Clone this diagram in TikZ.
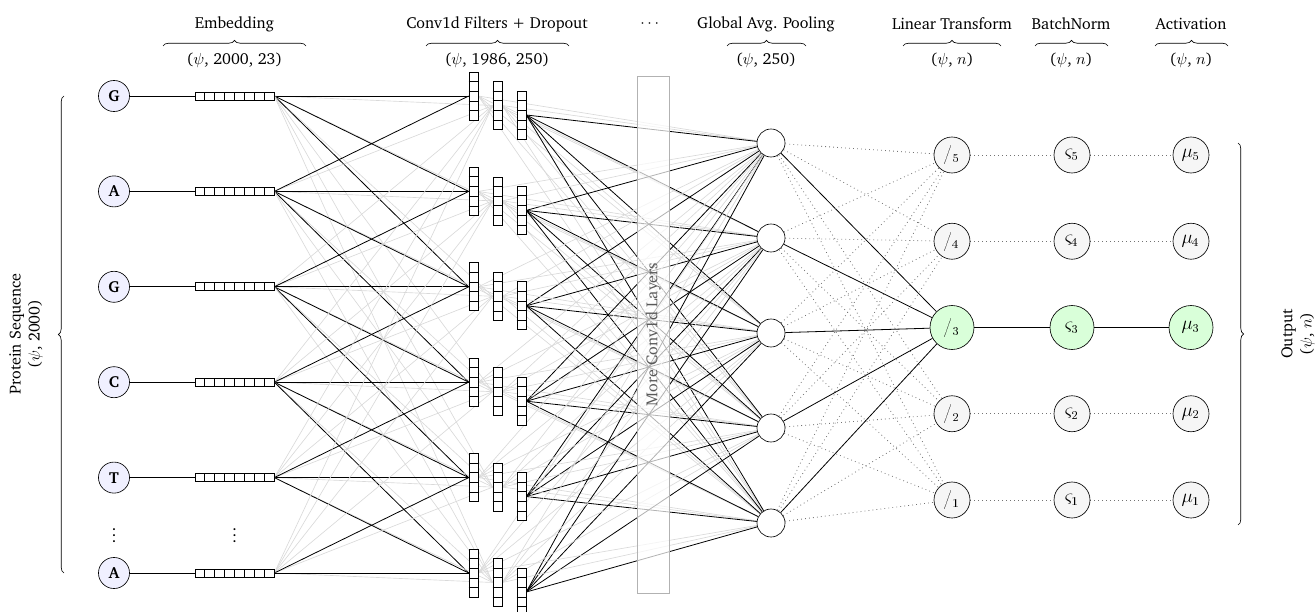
\documentclass[tikz,border=0pt]{standalone}
\usepackage[T1]{fontenc}
\usepackage{charter}
\usepackage{amsmath}
\usetikzlibrary{calc,decorations.pathreplacing,backgrounds}

\tikzset{
  inp/.style={circle, draw, fill=blue!6, minimum size=19.4pt, inner sep=0pt, font=\bfseries},
  embbox/.style={draw, fill=white, minimum width=49.4pt, minimum height=5pt, inner sep=0pt},
  convbox/.style={draw, fill=white, minimum width=5.6pt, minimum height=30pt, inner sep=0pt},
  pool/.style={circle, draw, fill=white, minimum size=17.5pt, inner sep=0pt},
  unit/.style={circle, draw, fill=gray!7, minimum size=22.5pt, inner sep=0pt, font=\large},
  hot/.style={unit, fill=green!15, minimum size=27.5pt},
  weak/.style={gray!30, line width=0.4pt},
  strong/.style={black, line width=0.5pt},
  faint/.style={black!55, dotted, line width=0.5pt},
  brc/.style={decorate, decoration={brace, amplitude=3.5pt}},
}

\begin{document}
\begin{tikzpicture}[x=0.625pt, y=-0.625pt]
  \useasboundingbox (0,0) rectangle (1316,612);

  % Titles and shapes
  \node at (234.5,24) {Embedding};
  \draw[brc] (163,46) -- (306,46);
  \node at (234.5,60) {($\psi$, 2000, 23)};
  \node at (497,24) {Conv1d Filters + Dropout};
  \draw[brc] (426,46) -- (569,46);
  \node at (497,60) {($\psi$, 1986, 250)};
  \node at (651,24) {$\cdots$};
  \node at (766,24) {Global Avg. Pooling};
  \draw[brc] (727,46) -- (806,46);
  \node at (766,60) {($\psi$, 250)};
  \node at (952,24) {Linear Transform};
  \draw[brc] (903,46) -- (1001,46);
  \node at (952,60) {($\psi$, $n$)};
  \node at (1071,24) {BatchNorm};
  \draw[brc] (1035,46) -- (1108,46);
  \node at (1071,60) {($\psi$, $n$)};
  \node at (1191,24) {Activation};
  \draw[brc] (1155,46) -- (1228,46);
  \node at (1191,60) {($\psi$, $n$)};

  % Input sequence and embeddings
  \foreach \l [count=\i from 0] in {G,A,G,C,T,A} {
    \node[inp] (in\i) at (114,{96+95.4*\i}) {\l};
    \node[embbox] (emb\i) at (234.5,{96+95.4*\i}) {};
    \foreach \k in {1,...,7}
      \draw ($(emb\i.south west)!\k/8!(emb\i.south east)$) -- ($(emb\i.north west)!\k/8!(emb\i.north east)$);
    \draw[strong] (in\i) -- (emb\i);
  }
  \node (vd1) at (114,531) {$\vdots$};
  \node (vd2) at (234.5,531) {$\vdots$};

  % Conv1d filters
  \foreach \i in {0,...,5} {
    \node[convbox] (ca\i) at (473.5,{96+95.4*\i}) {};
    \node[convbox] (cb\i) at (497.5,{105.5+95.4*\i}) {};
    \node[convbox] (cc\i) at (521.5,{115+95.4*\i}) {};
    \foreach \col in {ca,cb,cc}
      \foreach \k in {1,...,4}
        \draw ($(\col\i.north west)!\k/5!(\col\i.south west)$) -- ($(\col\i.north east)!\k/5!(\col\i.south east)$);
  }

  % Pooling
  \foreach \j in {0,...,4}
    \node[pool] (p\j) at (771,{143+95*\j}) {};

  % Linear, BatchNorm, Activation
  \foreach \m in {5,4,2,1} {
    \node[unit] (l\m) at (952,{155+86.25*(5-\m)}) {\sffamily /\textsubscript{\m}};
    \node[unit] (b\m) at (1072,{155+86.25*(5-\m)}) {$\varsigma_{\textsf{\m}}$};
    \node[unit] (a\m) at (1191,{155+86.25*(5-\m)}) {$\mu_{\textsf{\m}}$};
  }
  \node[hot] (l3) at (952,327.5) {\sffamily /\textsubscript{3}};
  \node[hot] (b3) at (1072,327.5) {$\varsigma_{\textsf{3}}$};
  \node[hot] (a3) at (1191,327.5) {$\mu_{\textsf{3}}$};

  % Connections
  \begin{scope}[on background layer]
    \foreach \i in {0,...,5}
      \foreach \j in {0,...,5} {
        \draw[weak] (emb\i.east) -- (cb\j.west);
        \pgfmathtruncatemacro\d{\j-\i}
        \ifnum\d>-2 \ifnum\d<3
          \draw[strong] (emb\i.east) -- (ca\j.west);
        \fi\fi
      }
    \foreach \i in {0,...,5}
      \foreach \j in {0,...,4} {
        \draw[weak] (ca\i.east) -- (p\j);
        \draw[weak] (cb\i.east) -- (p\j);
        \draw[strong] (cc\i.east) -- (p\j);
      }
    \foreach \j in {0,...,4} {
      \foreach \m in {1,2,4,5}
        \draw[faint] (p\j) -- (l\m);
      \draw[strong] (p\j) -- (l3);
    }
    \foreach \m in {1,2,4,5} {
      \draw[faint] (l\m) -- (b\m);
      \draw[faint] (b\m) -- (a\m);
    }
    \draw[strong] (l3) -- (b3) -- (a3);
  \end{scope}

  % More layers
  \node[draw=gray!60, fill=white, fill opacity=0.7, text opacity=1, text=gray!70!black,
        rotate=90, minimum width=323pt, minimum height=20pt, inner sep=0pt] (more) at (653,334.5) {More Conv1d Layers};

  % Side braces
  \draw[brc] (64,573) -- (64,96);
  \node[rotate=90, align=center] (seq) at (26,334) {Protein Sequence\\($\psi$, 2000)};
  \draw[brc] (1238,143) -- (1238,525);
  \node[rotate=90, align=center] (out) at (1298,334) {Output\\($\psi$, $n$)};
\end{tikzpicture}
\end{document}
